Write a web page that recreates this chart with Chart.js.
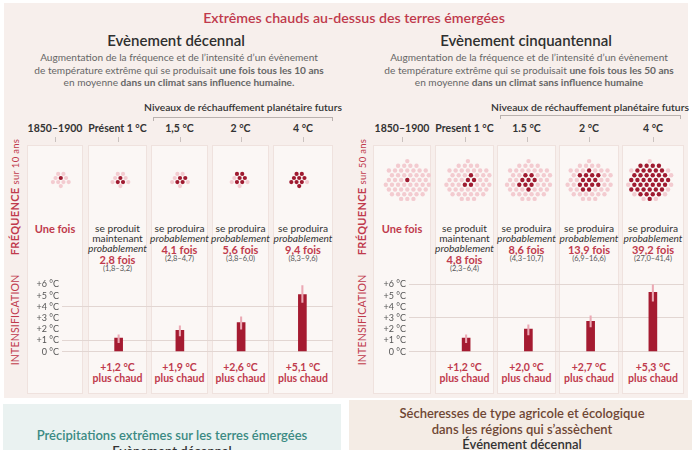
<!DOCTYPE html>
<html>
<head>
<meta charset="utf-8">
<script src="https://cdn.jsdelivr.net/npm/chart.js@4.4.1/dist/chart.umd.min.js"></script>
<style>
  body { margin: 0; width: 700px; height: 450px; overflow: hidden; background: #fff; position: relative; font-family: Lato, "Open Sans", sans-serif; color: #333; }
  .t { position: absolute; white-space: nowrap; transform: translate(-50%, -50%); line-height: 1; }
  .box { position: absolute; background: #fbf7f5; border: 1px solid #efe2de; box-sizing: border-box; }
  .rot { position: absolute; white-space: nowrap; transform: translate(-50%, -50%) rotate(-90deg); line-height: 1; color: #c03a4c; }
  .hline { position: absolute; background: #b9b1ae; }
</style>
</head>
<body>
<div style="position:absolute;left:4px;top:3px;width:684px;height:395px;background:#f7efec"></div>
<div style="position:absolute;left:3px;top:404px;width:338px;height:50px;background:#eaf2f1"></div>
<div style="position:absolute;left:349px;top:400px;width:343px;height:54px;background:#f4ece5"></div>
<script>
// data
const heads10 = ['1850–1900', 'Présent 1 °C', '1,5 °C', '2 °C', '4 °C'];
const heads50 = ['1850–1900', 'Present 1 °C', '1.5 °C', '2 °C', '4 °C'];

const freq10 = [1, 2.8, 4.1, 5.6, 9.4];
const freq10Range = ['', '(1,8–3,2)', '(2,8–4,7)', '(3,8–6,0)', '(8,3–9,6)'];
const freq50 = [1, 4.8, 8.6, 13.9, 39.2];
const freq50Range = ['', '(2,3–6,4)', '(4,3–10,7)', '(6,9–16,6)', '(27,0–41,4)'];

const warm10 = [1.2, 1.9, 2.6, 5.1];
const warm10Lo = [0.8, 1.4, 2.0, 4.4];
const warm10Hi = [1.5, 2.3, 3.1, 5.9];
const warm50 = [1.2, 2.0, 2.7, 5.3];
const warm50Lo = [0.8, 1.5, 2.2, 4.5];
const warm50Hi = [1.5, 2.4, 3.2, 6.0];

const tempTicks = [0, 1, 2, 3, 4, 5, 6];
// data

const RED = '#c03a4c';
const DARK = '#9f1a30';

function txt(html, x, y, css) {
    const d = document.createElement('div');
    d.className = 't';
    d.innerHTML = html;
    d.style.left = x + 'px';
    d.style.top = y + 'px';
    d.style.cssText += css || '';
    document.body.appendChild(d);
    return d;
}

function canvasAt(x, y, w, h) {
    const d = document.createElement('div');
    d.style.cssText = `position:absolute;left:${x}px;top:${y}px;width:${w}px;height:${h}px`;
    const c = document.createElement('canvas');
    d.appendChild(c);
    document.body.appendChild(d);
    return c;
}

const fr = v => v.toFixed(1).replace('.', ',');

// hex layout for the dot clusters, filled from the centre outwards
function hexSpots(n, s) {
    const pts = [];
    for (let r = -7; r <= 7; r++) {
        for (let q = -9; q <= 9; q++) {
            const x = (q + r / 2) * s, y = r * s * Math.sqrt(3) / 2;
            pts.push({x, y, d: Math.round(Math.hypot(x, y) * 100) / 100, a: Math.atan2(y, x)});
        }
    }
    pts.sort((p, q) => p.d - q.d || p.a - q.a);
    return pts.slice(0, n);
}

// titles
txt('Extrêmes chauds au-dessus des terres émergées', 354, 18, `font-size:14.2px;color:${RED};font-weight:600`);

const panels = [
    {
        heads: heads10, freq: freq10, range: freq10Range, warm: warm10, lo: warm10Lo, hi: warm10Hi,
        boxes: [[27, 83], [88, 147], [151, 208], [212, 269], [273, 333]],
        title: 'Evènement décennal', cx: 176, sideX: 15, yr: '10', dots: 10, step: 5.4, rad: 2.1,
        grid: [0, 1, 4], desc: ['Augmentation de la fréquence et de  l’intensité d’un évènement',
            'de température extrême qui se produisait <b>une fois tous les 10 ans</b>',
            'en moyenne <b>dans un climat sans influence humaine.</b>'],
        bracket: [153, 332, 117], niveaux: 243, dotY: 178
    },
    {
        heads: heads50, freq: freq50, range: freq50Range, warm: warm50, lo: warm50Lo, hi: warm50Hi,
        boxes: [[373, 431], [435, 494], [497, 556], [559, 619], [622, 684]],
        title: 'Evènement cinquantennal', cx: 526, sideX: 362, yr: '50', dots: 50, step: 6.3, rad: 2.2,
        grid: [0, 3, 6], desc: ['Augmentation de la fréquence et de  l’intensité d’un évènement',
            'de température extrême qui se produisait <b>une fois tous les 50 ans</b>',
            'en moyenne <b>dans un climat sans influence humaine</b>'],
        bracket: [500, 680, 115], niveaux: 590, dotY: 180
    }
];

for (const p of panels) {
    txt(p.title, p.cx, 40, 'font-size:15px;font-weight:600;color:#2f2f2f');
    p.desc.forEach((line, i) => txt(line, p.cx + 3, 57 + i * 12.5, 'font-size:10.1px;color:#666'));

    txt('Niveaux de réchauffement planétaire futurs', p.niveaux, 107, 'font-size:10.3px;font-weight:600;color:#333');
    const [bx0, bx1, by] = p.bracket;
    document.body.insertAdjacentHTML('beforeend',
        `<div class="hline" style="left:${bx0}px;top:${by}px;width:${bx1 - bx0}px;height:1px"></div>
         <div class="hline" style="left:${bx0}px;top:${by}px;width:1px;height:4px"></div>
         <div class="hline" style="left:${bx1}px;top:${by}px;width:1px;height:4px"></div>`);

    // column boxes, headers and frequency texts
    p.boxes.forEach(([a, b], i) => {
        const c = (a + b) / 2;
        document.body.insertAdjacentHTML('beforeend',
            `<div class="box" style="left:${a}px;top:145px;width:${b - a}px;height:249px"></div>
             <div class="hline" style="left:${c}px;top:137px;width:1px;height:5px;background:#c9c1be"></div>`);
        txt(p.heads[i], c, 128, 'font-size:10.5px;font-weight:700;color:#333');

        if (i === 0) {
            txt('Une fois', c, 228, `font-size:11px;font-weight:700;color:${RED}`);
            return;
        }
        const lines = i === 1 ? ['se produit', 'maintenant'] : ['se produira'];
        lines.push('<i>probablement</i>');
        let y = 228;
        lines.forEach(l => { txt(l, c, y, 'font-size:10.2px;color:#333'); y += 10; });
        txt(fr(p.freq[i]) + ' fois', c, y + 0.5, `font-size:11px;font-weight:700;color:${RED}`);
        txt(p.range[i], c, y + 11, 'font-size:7.5px;color:#555');
    });

    // side labels
    const side = document.createElement('div');
    side.className = 'rot';
    side.innerHTML = `<b>FRÉQUENCE</b> <span style="font-size:9.5px">sur ${p.yr} ans</span>`;
    side.style.cssText += `left:${p.sideX}px;top:197px;font-size:11px;letter-spacing:0.3px`;
    document.body.appendChild(side);
    const side2 = document.createElement('div');
    side2.className = 'rot';
    side2.textContent = 'INTENSIFICATION';
    side2.style.cssText += `left:${p.sideX}px;top:320px;font-size:10.5px;letter-spacing:0.2px`;
    document.body.appendChild(side2);

    // dot clusters
    const x0 = p.boxes[0][0], x1 = p.boxes[4][1];
    const colW = (x1 - x0) / 5;
    const spots = hexSpots(p.dots, p.step);
    const light = [], dark = [];
    p.freq.forEach((f, i) => {
        const k = Math.round(f);
        spots.forEach((s, j) => (j < k ? dark : light).push({x: i + s.x / colW, y: s.y}));
    });
    new Chart(canvasAt(x0, p.dotY - 30, x1 - x0, 60), {
        type: 'scatter',
        data: {
            datasets: [
                {data: light, backgroundColor: '#f3cbd0', pointRadius: p.rad, borderWidth: 0, order: 1},
                {data: dark, backgroundColor: DARK, pointRadius: p.rad, borderWidth: 0, order: 0}
            ]
        },
        options: {
            responsive: true, maintainAspectRatio: false, animation: false,
            layout: {padding: 0},
            plugins: {legend: {display: false}, tooltip: {enabled: false}},
            scales: {
                x: {display: false, min: -0.5, max: 4.5},
                y: {display: false, min: -30, max: 30}
            }
        }
    });

    // intensification bars
    const yW = p.boxes[1][0] - x0;
    new Chart(canvasAt(x0, 276, x1 - x0, 84), {
        type: 'bar',
        data: {
            labels: p.heads.slice(1),
            datasets: [
                {data: p.lo.map((l, i) => [l, p.hi[i]]), backgroundColor: '#eba9b4', barThickness: 1.4, grouped: false, order: 0},
                {data: p.warm, backgroundColor: '#a51b31', barThickness: 8, grouped: false, order: 1}
            ]
        },
        options: {
            responsive: true, maintainAspectRatio: false, animation: false,
            layout: {padding: {top: 8, bottom: 6, left: 0, right: 0}},
            plugins: {legend: {display: false}, tooltip: {enabled: false}},
            scales: {
                x: {display: false},
                y: {
                    min: 0, max: 6,
                    afterBuildTicks: s => { s.ticks = tempTicks.map(v => ({value: v})); },
                    afterFit: s => { s.width = yW; },
                    border: {display: false},
                    grid: {
                        color: c => p.grid.includes(c.tick.value) ? '#e2d6d2' : 'rgba(0,0,0,0)',
                        tickLength: yW - 36 + (p.yr === '50' ? 0 : 1),
                        lineWidth: 1
                    },
                    ticks: {
                        autoSkip: false,
                        padding: 3, color: '#555', font: {family: 'Lato', size: 9},
                        callback: v => (v > 0 ? '+' : '') + v + ' °C'
                    }
                }
            }
        }
    });

    p.warm.forEach((v, i) => {
        const [a, b] = p.boxes[i + 1];
        const c = (a + b) / 2;
        txt('+' + fr(v) + ' °C', c, 367, `font-size:10.5px;font-weight:700;color:${RED}`);
        txt('plus chaud', c, 377.5, `font-size:10.5px;font-weight:700;color:${RED}`);
    });
}

// next panels, cut by the frame
txt('Précipitations extrêmes sur les terres émergées', 172, 435, 'font-size:13px;font-weight:600;color:#3b8a83');
txt('Evènement décennal', 172, 451, 'font-size:13px;font-weight:600;color:#333');
txt('Sécheresses de type agricole et écologique', 522, 413, 'font-size:13px;font-weight:600;color:#6f4734');
txt('dans les régions qui s’assèchent', 522, 428.5, 'font-size:13px;font-weight:600;color:#6f4734');
txt('Événement décennal', 522, 444, 'font-size:13px;font-weight:600;color:#333');
</script>
</body>
</html>
